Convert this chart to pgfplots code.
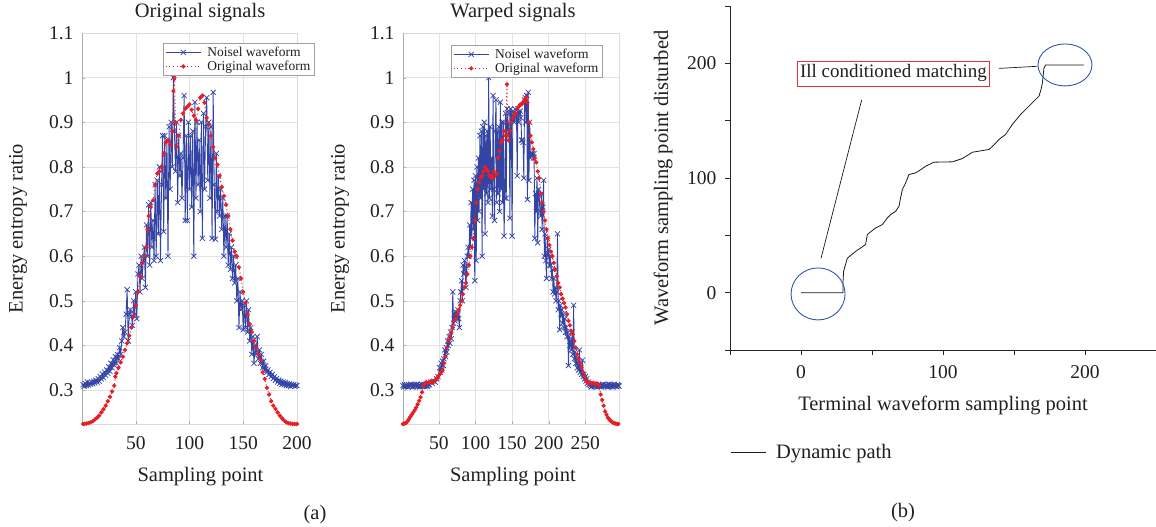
\documentclass[border=0pt]{standalone}
\usepackage{fontspec}
\setmainfont{Liberation Serif}
\usepackage{pgfplots}
\pgfplotsset{compat=1.18}
\definecolor{bl}{RGB}{52,68,165}
\definecolor{rd}{RGB}{232,30,36}
\definecolor{txt}{RGB}{35,31,32}
\definecolor{ell}{RGB}{50,85,175}
\definecolor{boxr}{RGB}{228,50,60}
\newcommand{\fA}{\fontsize{20.5}{22}\selectfont}
\newcommand{\fT}{\fontsize{19.5}{20}\selectfont}
\newcommand{\fL}{\fontsize{13.5}{14}\selectfont}
\pgfplotsset{
 sig/.style={
  scale only axis, width=215pt, height=391pt, anchor=south west,
  ymin=0.224, ymax=1.1, ytick={0.3,0.4,0.5,0.6,0.7,0.8,0.9,1,1.1},
  grid=major, major grid style={gray!22, line width=0.5pt},
  axis line style={gray!28},
  tick pos=left, tick align=inside, major tick length=3pt, tick style={gray!65},
  ticklabel style={font=\fT, text=txt},
  xticklabel style={yshift=-9pt},
  yticklabel style={xshift=-5pt},
  /pgf/number format/assume math mode=true,
  label style={font=\fA, text=txt},
  title style={font=\fA, text=txt},
  ylabel style={at={(axis description cs:-0.298,0.5)}, anchor=center, rotate=0},
  legend cell align=left,
  legend image code/.code={\draw[mark repeat=2,mark phase=2,##1] plot coordinates {(0pt,0pt) (17.5pt,0pt) (35pt,0pt)};},
  legend style={font=\fL, text=txt, draw=gray!75, line width=0.5pt, fill=white, inner xsep=2pt, inner ysep=1.5pt, row sep=-1pt, column sep=4pt, anchor=north west},
 },
 noisy/.style={bl, line width=0.9pt, mark=x, mark size=3.6pt, mark options={solid, line width=0.75pt}},
 orig/.style={rd, line width=1pt, dash pattern=on 1pt off 2.6pt, mark=*, mark size=1.6pt, mark options={solid, draw=none, fill=rd}},
}
\begin{document}
\begin{tikzpicture}
\useasboundingbox (0,0) rectangle (1156pt,527pt);
% ---------------- axis 1 ----------------
\begin{axis}[sig, at={(82pt,103pt)}, xmin=0, xmax=200, xtick={50,100,150,200},
  title={Original signals}, title style={at={(axis description cs:0.549,1.038)}, anchor=center},
  xlabel={Sampling point}, xlabel style={at={(axis description cs:0.551,-0.1355)}, anchor=center},
  ylabel={Energy entropy ratio},
  legend style={at={(rel axis cs:0.377,0.974)}}]
\addplot[noisy] coordinates {
(1,.312)(2,.308)(3,.315)(4,.31)(5,.318)(6,.311)(7,.316)(8,.313)(9,.318)(10,.314)
(11,.32)(12,.316)(13,.322)(14,.318)(15,.326)(16,.32)(17,.33)(18,.325)(19,.336)(20,.328)
(21,.34)(22,.333)(23,.345)(24,.338)(25,.352)(26,.342)(27,.36)(28,.35)(29,.368)(30,.356)
(31,.375)(32,.36)(33,.38)(34,.37)(35,.395)(36,.38)(37,.41)(38,.44)(39,.42)(40,.43)
(41,.47)(42,.525)(43,.41)(44,.47)(45,.48)(46,.465)(47,.445)(48,.5)(49,.47)(50,.52)
(51,.46)(52,.56)(53,.58)(54,.52)(55,.6)(56,.55)(57,.59)(58,.62)(59,.53)(60,.67)
(61,.6)(62,.715)(63,.58)(64,.72)(65,.62)(66,.68)(67,.59)(68,.76)(69,.6)(70,.77)
(71,.65)(72,.8)(73,.59)(74,.76)(75,.87)(76,.655)(77,.87)(78,.73)(79,.86)(80,.6)
(81,.89)(82,.75)(83,.9)(84,.8)(85,1.0)(86,.88)(87,.79)(88,.9)(89,.72)(90,.87)
(91,.78)(92,.83)(93,.73)(94,.82)(95,.96)(96,.68)(97,.87)(98,.68)(99,.9)(100,.75)
(101,.87)(102,.71)(103,.88)(104,.6)(105,.945)(106,.73)(107,.9)(108,.76)(109,.86)(110,.7)
(111,.9)(112,.64)(113,.92)(114,.75)(115,.89)(116,.955)(117,.77)(118,.9)(119,.73)(120,.89)
(121,.64)(122,.967)(123,.76)(124,.638)(125,.83)(126,.7)(127,.78)(128,.69)(129,.75)(130,.66)
(131,.73)(132,.6)(133,.69)(134,.62)(135,.69)(136,.58)(137,.65)(138,.57)(139,.62)(140,.55)
(141,.6)(142,.54)(143,.58)(144,.5)(145,.55)(146,.44)(147,.52)(148,.48)(149,.5)(150,.435)
(151,.49)(152,.44)(153,.5)(154,.43)(155,.48)(156,.41)(157,.44)(158,.38)(159,.42)(160,.36)
(161,.4)(162,.38)(163,.42)(164,.37)(165,.39)(166,.36)(167,.38)(168,.35)(169,.365)(170,.345)
(171,.355)(172,.34)(173,.345)(174,.335)(175,.34)(176,.33)(177,.335)(178,.326)(179,.33)(180,.322)
(181,.326)(182,.318)(183,.322)(184,.315)(185,.32)(186,.313)(187,.318)(188,.312)(189,.317)(190,.31)
(191,.315)(192,.31)(193,.314)(194,.308)(195,.313)(196,.31)(197,.312)(198,.308)(199,.311)(200,.31)};
\addlegendentry{Noisel waveform}
\addplot[orig] coordinates {
(1,.224)(2,.224)(4,.225)(6,.226)(8,.228)(10,.23)(12,.234)(14,.238)(16,.243)(18,.25)
(20,.257)(22,.265)(24,.275)(26,.285)(28,.297)(30,.31)(31,.33)(32,.338)(34,.35)(36,.362)
(38,.375)(40,.39)(42,.405)(44,.422)(46,.44)(48,.465)(50,.49)(52,.52)(54,.555)(56,.585)
(58,.6)(60,.62)(61,.66)(62,.69)(64,.71)(66,.725)(68,.76)(70,.785)(72,.79)(74,.8)
(76,.83)(78,.855)(80,.86)(82,.85)(84,.88)(85,.97)(86,1.0)(87,.9)(88,.845)(90,.87)
(92,.905)(94,.92)(96,.93)(98,.935)(100,.94)(102,.928)(104,.915)(106,.905)(108,.93)(110,.955)
(112,.96)(114,.944)(116,.91)(118,.895)(120,.87)(122,.845)(124,.82)(126,.805)(128,.78)(130,.755)
(132,.735)(134,.715)(136,.69)(138,.66)(140,.635)(142,.61)(144,.6)(146,.575)(148,.55)(150,.52)
(152,.495)(154,.47)(156,.448)(158,.43)(160,.41)(162,.395)(164,.38)(166,.368)(168,.34)(170,.325)
(172,.305)(174,.29)(176,.275)(178,.265)(180,.258)(182,.25)(184,.243)(186,.237)(188,.232)(190,.228)
(192,.226)(194,.225)(196,.224)(198,.224)(200,.224)};
\addlegendentry{Original waveform}
\draw[gray!65, line width=0.6pt] (rel axis cs:0,1) -- (rel axis cs:0,0) -- (rel axis cs:1,0);
\end{axis}
% ---------------- axis 2 ----------------
\begin{axis}[sig, at={(403pt,103pt)}, width=216pt, xmin=1, xmax=296, xtick={50,100,150,200,250},
  title={Warped signals}, title style={at={(axis description cs:0.509,1.038)}, anchor=center},
  xlabel={Sampling point}, xlabel style={at={(axis description cs:0.509,-0.1355)}, anchor=center},
  ylabel={Energy entropy ratio}, ylabel style={at={(axis description cs:-0.292,0.5)}},
  legend style={at={(rel axis cs:0.222,0.969)}}]
\addplot[noisy] coordinates {
(1,.31)(2,.307)(3,.312)(4,.309)(5,.308)(6,.312)(7,.31)(8,.307)(9,.312)(10,.31)
(11,.309)(12,.313)(13,.311)(14,.307)(15,.308)(16,.312)(17,.312)(18,.308)(19,.31)(20,.313)
(21,.308)(22,.31)(23,.311)(24,.307)(25,.309)(26,.313)(27,.312)(28,.308)(29,.31)(30,.312)
(31,.308)(32,.311)(33,.311)(34,.308)(35,.31)(36,.313)
(37,.312)(39,.318)(41,.315)(43,.32)(45,.318)(47,.325)(49,.33)(51,.35)(52,.34)(53,.36)
(54,.345)(55,.365)(56,.355)(57,.37)(58,.39)(59,.375)(60,.395)(61,.385)(62,.41)(63,.4)
(64,.42)(65,.405)(66,.43)(67,.415)(68,.44)(69,.52)(70,.45)(71,.47)(72,.455)(73,.475)
(74,.47)(75,.46)(76,.48)(77,.46)(78,.44)(79,.5)(80,.52)(81,.545)(82,.5)(83,.58)
(84,.56)(85,.59)(86,.57)(87,.53)(88,.58)(89,.6)(90,.62)(91,.6)(92,.67)(93,.62)
(94,.72)(95,.64)(96,.75)(97,.66)(98,.77)(99,.545)(100,.78)(101,.59)(102,.8)(103,.68)
(104,.82)(105,.7)(106,.87)(107,.73)(108,.88)(109,.6)(110,.89)(111,.75)(112,.9)(113,.65)
(114,.87)(115,.74)(116,.88)(117,.72)(118,1.0)(119,.73)(120,.89)(121,.75)(122,.82)(123,.69)
(124,.96)(125,.75)(126,.68)(127,.88)(128,.95)(129,.72)(130,.88)(131,.74)(132,.89)(133,.7)
(134,.945)(135,.75)(136,.9)(137,.72)(138,.9)(139,.645)(140,.73)(141,.92)(142,.73)(143,.93)
(144,.89)(145,.87)(146,.92)(147,.685)(148,.93)(149,.92)(150,.645)(151,.915)(152,.92)(153,.9)
(154,.93)(155,.91)(156,.92)(157,.78)(158,.93)(159,.9)(160,.92)(161,.925)(162,.91)(163,.86)
(164,.86)(165,.855)(166,.775)(167,.95)(168,.955)(169,.9)(170,.96)(171,.727)(172,.967)(173,.77)
(174,.9)(175,.82)(176,.83)(177,.825)(178,.83)(179,.82)(180,.83)(181,.64)(182,.74)(183,.7)
(184,.775)(185,.63)(186,.75)(187,.735)(188,.7)(189,.69)(190,.74)(191,.66)(192,.71)(193,.77)
(194,.6)(195,.65)(196,.59)(197,.55)(198,.64)(199,.6)(200,.615)(201,.58)(202,.6)(203,.58)
(204,.55)(205,.57)(206,.52)(207,.55)(208,.515)(209,.53)(210,.5)(211,.52)(212,.65)(213,.48)
(214,.5)(215,.435)(216,.49)(217,.47)(218,.48)(219,.45)(220,.47)(221,.44)(222,.46)(223,.43)
(224,.44)(225,.42)(226,.43)(227,.355)(228,.42)(229,.4)(230,.41)(231,.39)(232,.43)(233,.38)
(234,.49)(235,.37)(236,.385)(237,.36)(238,.37)(239,.35)(240,.36)(241,.345)(242,.39)(243,.34)
(244,.35)(245,.335)(246,.367)(247,.33)(248,.335)(249,.325)(250,.33)(251,.32)(252,.325)(253,.315)
(254,.318)(255,.312)(256,.313)(257,.31)(258,.307)(259,.308)(260,.312)(261,.311)(262,.308)(263,.309)
(264,.313)(265,.312)(266,.307)(267,.31)(268,.312)(269,.308)(270,.31)(271,.311)(272,.307)(273,.31)
(274,.313)(275,.312)(276,.308)(277,.309)(278,.312)(279,.31)(280,.307)(281,.308)(282,.313)(283,.312)
(284,.308)(285,.31)(286,.312)(287,.309)(288,.307)(289,.311)(290,.313)(291,.31)(292,.308)(293,.308)
(294,.312)(295,.31)(296,.309)};
\addlegendentry{Noisel waveform}
\addplot[orig] coordinates {
(1,.224)(3,.225)(5,.226)(7,.23)(9,.235)(11,.24)(13,.245)(15,.25)(17,.255)(19,.261)
(21,.268)(23,.276)(25,.284)(27,.295)(29,.31)(31,.315)(33,.318)(35,.316)(37,.318)(39,.32)
(41,.318)(43,.32)(45,.322)(47,.325)(49,.33)(51,.335)(53,.34)(55,.345)(57,.36)(59,.375)
(61,.395)(63,.41)(65,.42)(67,.43)(69,.44)(71,.455)(73,.46)(75,.47)(77,.48)(79,.49)
(81,.5)(83,.515)(85,.53)(87,.54)(89,.56)(91,.58)(93,.6)(95,.62)(97,.64)(99,.68)
(101,.72)(103,.75)(105,.765)(107,.775)(109,.78)(111,.79)(113,.8)(115,.795)(117,.79)(119,.78)
(121,.78)(123,.775)(125,.79)(127,.78)(129,.785)(131,.82)(133,.835)(135,.855)(137,.86)(139,.88)
(141,.87)(143,.985)(144,.87)(145,.86)(147,.88)(149,.9)(151,.91)(153,.915)(155,.92)(157,.93)
(159,.935)(161,.94)(163,.94)(165,.945)(167,.95)(169,.956)(171,.944)(173,.9)(175,.87)(177,.855)
(179,.84)(181,.82)(183,.81)(185,.79)(187,.775)(189,.74)(191,.72)(193,.7)(195,.68)(197,.66)
(199,.64)(201,.625)(203,.61)(205,.6)(207,.585)(209,.57)(211,.555)(213,.54)(215,.53)(217,.515)
(219,.505)(221,.495)(223,.485)(225,.47)(227,.455)(229,.445)(231,.432)(233,.425)(235,.41)(237,.395)
(239,.38)(241,.37)(243,.36)(245,.35)(247,.34)(249,.33)(251,.322)(253,.318)(255,.315)(257,.316)
(259,.315)(261,.316)(263,.314)(265,.315)(267,.313)(269,.31)(271,.29)(273,.278)(275,.265)(277,.252)
(279,.245)(281,.238)(283,.234)(285,.23)(287,.228)(289,.226)(291,.225)(293,.224)(295,.224)};
\addlegendentry{Original waveform}
\draw[gray!65, line width=0.6pt] (rel axis cs:0,1) -- (rel axis cs:0,0) -- (rel axis cs:1,0);
\end{axis}
% ---------------- axis 3 ----------------
\begin{axis}[scale only axis, width=426pt, height=344pt, at={(730pt,177pt)}, anchor=south west,
  xmin=-50, xmax=250, ymin=-50, ymax=250,
  axis lines=left, axis line style={-, black!85, line width=0.8pt},
  xtick={0,100,200}, ytick={0,100,200},
  minor xtick={-50,50,150,250}, minor ytick={-50,50,150,250},
  tick align=outside, major tick length=5pt, minor tick length=5pt,
  tick style={black!85, line width=0.8pt},
  ticklabel style={font=\fT, text=txt},
  xticklabel style={yshift=-7pt}, yticklabel style={xshift=-5pt},
  /pgf/number format/assume math mode=true,
  label style={font=\fA, text=txt},
  xlabel={Terminal waveform sampling point},
  xlabel style={at={(axis description cs:0.5,-0.16)}, anchor=center},
  ylabel={Waveform sampling point disturbed},
  ylabel style={at={(axis description cs:-0.157,0.5)}, anchor=center},
  clip=false,
  legend image code/.code={\draw[#1] (0pt,0pt) -- (35pt,0pt);},
  legend style={at={(axis description cs:0,-0.2965)}, anchor=west, draw=none, fill=none, inner sep=0pt, column sep=8pt, font=\fA, text=txt},
  legend cell align=left]
\addplot[black!90, line width=0.8pt] coordinates {
(0,0)(28.4,0)(29.6,0)(29.6,10)(30,18.6)(32.6,30)(35,32.5)(38.5,36)(42,39)(45.5,42)
(46.7,50.7)(49,53)(52.6,56.5)(57.3,59.4)(60.8,65.2)(63,68)(66.7,71)(69,75.4)(70,82)(71.4,90)
(73.7,95.8)(76,103)(80.8,104.5)(84,107)(87.8,110.3)(93.7,113.8)(106.7,114.1)(113.7,117)(120.8,122.5)(132.4,124.9)
(136,129)(139.4,133.6)(144.1,138)(148.8,146.7)(154.7,155.5)(160.6,162.7)(165.3,168.6)(167.6,171.4)(169,177)(170,183)
(171.1,196)(172.3,198.6)(199.3,198.6)};
\addlegendentry{Dynamic path}
\draw[ell, line width=0.9pt] (axis cs:185.9,198.6) ellipse [x radius=27pt, y radius=21pt];
\draw[ell, line width=0.9pt] (axis cs:12,-1.1) ellipse [x radius=27pt, y radius=26pt];
\draw[black!90, line width=0.7pt] (axis cs:139.4,195.6) -- (axis cs:166.2,197.4);
\draw[black!90, line width=0.7pt] (axis cs:42.7,168) -- (axis cs:14.1,30);
\node[draw=boxr, line width=0.8pt, fill=white, text=txt, font=\fontsize{19}{20}\selectfont, inner xsep=3pt, inner ysep=3pt, minimum width=191pt, minimum height=25pt] at (axis cs:65.1,191.2) {Ill conditioned matching};
\end{axis}
\node[font=\fA, text=txt] at (315pt,12pt) {(a)};
\node[font=\fA, text=txt] at (903pt,14pt) {(b)};
\end{tikzpicture}
\end{document}
